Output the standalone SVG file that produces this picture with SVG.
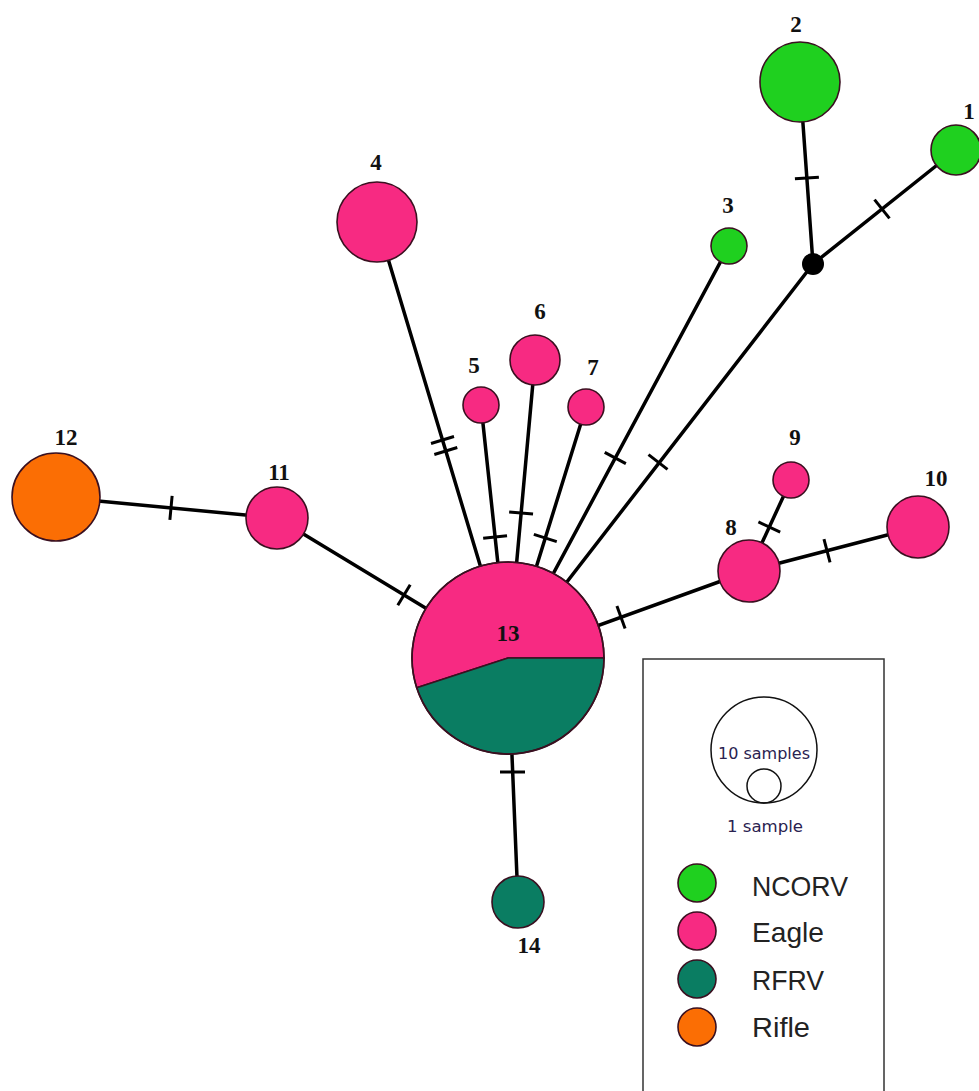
<svg xmlns="http://www.w3.org/2000/svg" width="979" height="1091" viewBox="0 0 979 1091">
  <style>
    .edge { stroke: #000; stroke-width: 3.5; fill: none; stroke-linecap: round; }
    .tick { stroke: #000; stroke-width: 3; stroke-linecap: butt; }
    .node { stroke: #3a1020; stroke-width: 1.6; }
    .ncorv { fill: #1fd01f; }
    .eagle { fill: #f72a82; }
    .rfrv { fill: #0a7d62; }
    .rifle { fill: #fb6e04; }
    .lbl { font-family: "Liberation Serif", serif; font-weight: bold; font-size: 23px; fill: #111; text-anchor: middle; }
    .leg { font-family: "Liberation Sans", "DejaVu Sans", sans-serif; font-size: 28px; fill: #222; }
    .legsmall { font-family: "DejaVu Sans", "Liberation Sans", sans-serif; font-size: 16px; fill: #2a2250; text-anchor: middle; }
  </style>
  <defs>
    <line id="tk" class="tick" x1="-12" y1="0" x2="12" y2="0"/>
  </defs>
  <rect width="979" height="1091" fill="#fff"/>

  <!-- connectors with mutation ticks -->
  <g id="connectors">
    <line class="edge" x1="800" y1="82" x2="813" y2="264"/>
    <use href="#tk" transform="translate(806.9,178) rotate(175.9)"/>
    <line class="edge" x1="956" y1="150" x2="813" y2="264"/>
    <use href="#tk" transform="translate(882,209) rotate(231.4)"/>
    <line class="edge" x1="813" y1="264" x2="508" y2="658"/>
    <use href="#tk" transform="translate(658,462) rotate(217.7)"/>
    <line class="edge" x1="729" y1="246" x2="508" y2="658"/>
    <use href="#tk" transform="translate(615.3,458) rotate(208.2)"/>
    <line class="edge" x1="377" y1="222" x2="508" y2="658"/>
    <use href="#tk" transform="translate(442.5,440) rotate(163.3)"/>
    <use href="#tk" transform="translate(445.8,451) rotate(163.3)"/>
    <line class="edge" x1="481" y1="405" x2="508" y2="658"/>
    <use href="#tk" transform="translate(495.1,537) rotate(173.9)"/>
    <line class="edge" x1="535" y1="360" x2="508" y2="658"/>
    <use href="#tk" transform="translate(521.1,513) rotate(185.2)"/>
    <line class="edge" x1="586" y1="407" x2="508" y2="658"/>
    <use href="#tk" transform="translate(545.3,538) rotate(197.3)"/>
    <line class="edge" x1="277" y1="518" x2="508" y2="658"/>
    <use href="#tk" transform="translate(404,595) rotate(121.2)"/>
    <line class="edge" x1="56" y1="497" x2="277" y2="518"/>
    <use href="#tk" transform="translate(171,507.9) rotate(95.4)"/>
    <line class="edge" x1="749" y1="571" x2="508" y2="658"/>
    <use href="#tk" transform="translate(621,617.2) rotate(250.1)"/>
    <line class="edge" x1="791" y1="480" x2="749" y2="571"/>
    <use href="#tk" transform="translate(769.3,527) rotate(204.8)"/>
    <line class="edge" x1="918" y1="527" x2="749" y2="571"/>
    <use href="#tk" transform="translate(827,550.7) rotate(255.4)"/>
    <line class="edge" x1="508" y1="658" x2="518" y2="902"/>
    <line class="tick" x1="500" y1="772" x2="525" y2="772" stroke-width="5" stroke-linecap="round"/>
  </g>

  <!-- haplotype nodes -->
  <g id="n13">
    <path class="node eagle" d="M508,658 L604,658 A96,96 0 1 0 416.7,687.7 Z"/>
    <path class="node rfrv" d="M508,658 L416.7,687.7 A96,96 0 0 0 604,658 Z"/>
    <circle cx="508" cy="658" r="96" fill="none" stroke="#3a1020" stroke-width="1.6"/>
    <text class="lbl" x="508" y="641" font-size="27" fill="#5a0c2c">13</text>
  </g>
  <g id="junction"><circle cx="813" cy="264" r="11" fill="#000"/></g>
  <g id="n1"><circle class="node ncorv" cx="956" cy="150" r="25"/><text class="lbl" x="969" y="119">1</text></g>
  <g id="n2"><circle class="node ncorv" cx="800" cy="82" r="40"/><text class="lbl" x="796" y="32">2</text></g>
  <g id="n3"><circle class="node ncorv" cx="729" cy="246" r="18"/><text class="lbl" x="728" y="213">3</text></g>
  <g id="n4"><circle class="node eagle" cx="377" cy="222" r="40"/><text class="lbl" x="376" y="170">4</text></g>
  <g id="n5"><circle class="node eagle" cx="481" cy="405" r="18"/><text class="lbl" x="474" y="373">5</text></g>
  <g id="n6"><circle class="node eagle" cx="535" cy="360" r="25"/><text class="lbl" x="540" y="319">6</text></g>
  <g id="n7"><circle class="node eagle" cx="586" cy="407" r="18"/><text class="lbl" x="593" y="375">7</text></g>
  <g id="n8"><circle class="node eagle" cx="749" cy="571" r="31"/><text class="lbl" x="731" y="535">8</text></g>
  <g id="n9"><circle class="node eagle" cx="791" cy="480" r="18"/><text class="lbl" x="795" y="445">9</text></g>
  <g id="n10"><circle class="node eagle" cx="918" cy="527" r="31"/><text class="lbl" x="936" y="486">10</text></g>
  <g id="n11"><circle class="node eagle" cx="277" cy="518" r="31"/><text class="lbl" x="279" y="480">11</text></g>
  <g id="n12"><circle class="node rifle" cx="56" cy="497" r="44"/><text class="lbl" x="66" y="445">12</text></g>
  <g id="n14"><circle class="node rfrv" cx="518" cy="902" r="26"/><text class="lbl" x="529" y="953">14</text></g>

  <!-- legend -->
  <g id="legend">
    <rect x="643" y="659" width="241" height="440" fill="#fff" stroke="#333" stroke-width="1.5"/>
    <circle cx="764" cy="750" r="53" fill="none" stroke="#111" stroke-width="1.5"/>
    <circle cx="764" cy="786" r="17" fill="none" stroke="#111" stroke-width="1.5"/>
    <text class="legsmall" x="764" y="759" textLength="92" lengthAdjust="spacingAndGlyphs">10 samples</text>
    <text class="legsmall" x="765" y="832" textLength="76" lengthAdjust="spacingAndGlyphs">1 sample</text>
    <circle class="node ncorv" cx="697" cy="883" r="19"/>
    <circle class="node eagle" cx="697" cy="931" r="19"/>
    <circle class="node rfrv" cx="697" cy="979" r="19"/>
    <circle class="node rifle" cx="697" cy="1027" r="19"/>
    <text class="leg" x="752" y="896" textLength="96" lengthAdjust="spacingAndGlyphs">NCORV</text>
    <text class="leg" x="752" y="942" textLength="72" lengthAdjust="spacingAndGlyphs">Eagle</text>
    <text class="leg" x="752" y="990" textLength="72" lengthAdjust="spacingAndGlyphs">RFRV</text>
    <text class="leg" x="752" y="1037" textLength="58" lengthAdjust="spacingAndGlyphs">Rifle</text>
  </g>
</svg>
